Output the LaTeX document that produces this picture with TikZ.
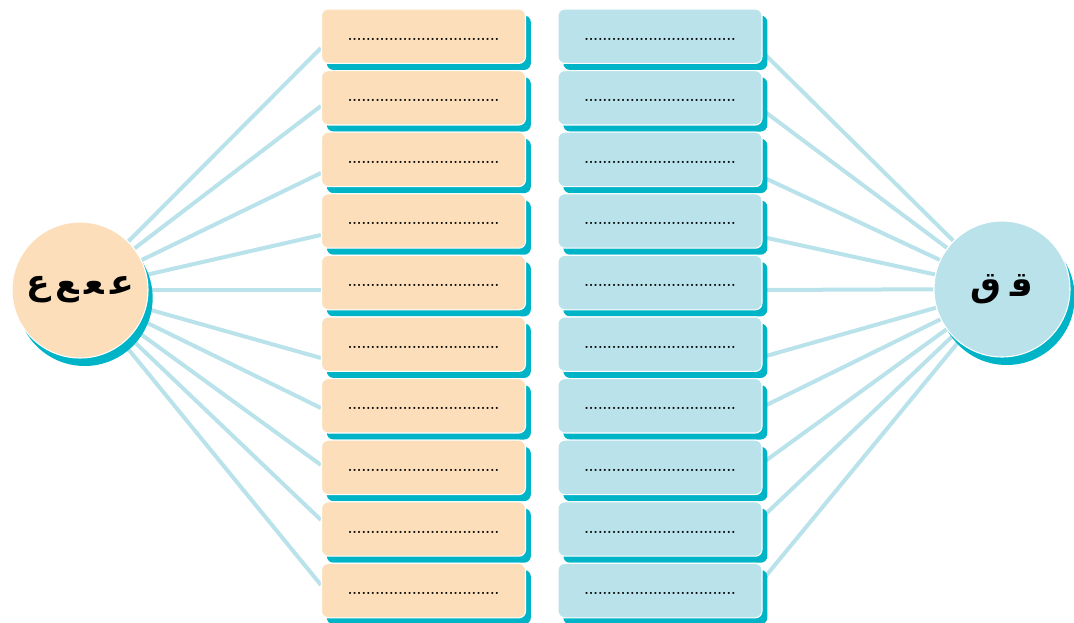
\documentclass[tikz,border=0pt]{standalone}
\usepackage{fontspec}
\usetikzlibrary{shadows,backgrounds}
\TeXXeTstate=1
\newfontfamily\arabicfont[Script=Arabic]{DejaVu Sans}
\definecolor{peach}{HTML}{FCDFBA}
\definecolor{paleblue}{HTML}{B9E2EA}
\definecolor{deepteal}{HTML}{00B4C8}
\newcommand\dotrow{.................................}

\begin{document}
\begin{tikzpicture}[x=0.75pt, y=-0.75pt,
	every node/.style = {draw=white, line width=0.8pt},
	card/.style = {shape=rectangle, rounded corners=5pt,
		minimum width=153pt, minimum height=40.8pt,
		text height=6pt, text depth=0pt,
		font=\bfseries\fontsize{11}{13}\selectfont,
		general shadow={fill=deepteal, shadow xshift=4pt, shadow yshift=-4.9pt}},
	hub/.style = {shape=circle, minimum size=102pt, inner sep=0pt,
		font=\arabicfont\bfseries\fontsize{26}{30}\selectfont,
		general shadow={fill=deepteal, shadow xshift=3.5pt, shadow yshift=-6pt}},
	spoke/.style = {draw=paleblue, line width=3pt}]
	\useasboundingbox (0,0) rectangle (1074,623);
	% letter circles
	\node[hub, fill=peach] (lc) at (80,290) {\beginR ﻋ\,ﻌ\,ﻊ\,ع\endR};
	\node[hub, fill=paleblue] (rc) at (1002,289) {\beginR ﻗ\;ق\endR};
	% two columns of empty cards
	\foreach \i in {1,...,10} {
		\node[card, fill=peach] (lb\i) at (423.5,{36.2+61.6*(\i-1)}) {\dotrow};
		\node[card, fill=paleblue] (rb\i) at (660,{36.2+61.6*(\i-1)}) {\dotrow};
	}
	% spokes
	\begin{scope}[on background layer]
		\foreach \i/\ly/\ry in {1/48/52, 2/106/110, 3/173/177, 4/235/237, 5/290/290,
			6/358/357, 7/408/407, 8/465/463, 9/520/517, 10/585/580} {
			\draw[spoke] (lc) -- (lb\i.west |- 0,\ly);
			\draw[spoke] (rc) -- (rb\i.east |- 0,\ry);
		}
	\end{scope}
\end{tikzpicture}
\end{document}
